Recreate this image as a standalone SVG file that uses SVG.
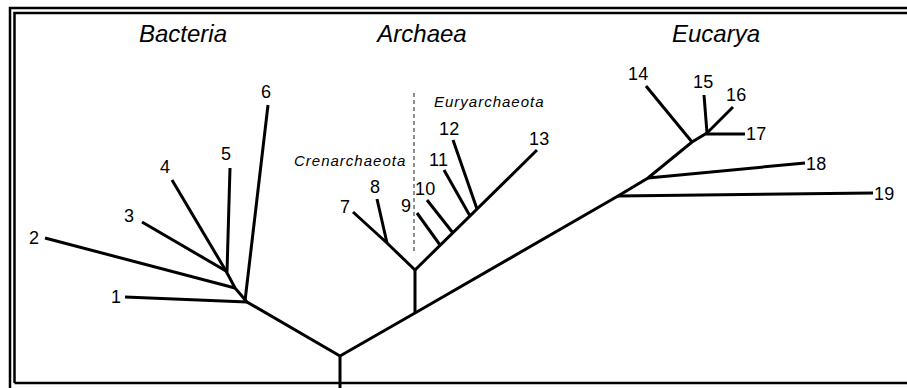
<svg xmlns="http://www.w3.org/2000/svg" width="907" height="388" viewBox="0 0 907 388">
  <style>
    .frame { fill: none; stroke: #000; stroke-width: 2.5; }
    .br { fill: none; stroke: #000; stroke-width: 3; stroke-linecap: butt; stroke-linejoin: miter; }
    .div { fill: none; stroke: #333; stroke-width: 1.1; stroke-dasharray: 4 3; }
    .domain { font-family: "Liberation Sans", Arial, sans-serif; font-style: italic; font-size: 24px; fill: #000; text-anchor: middle; }
    .clade { font-family: "Liberation Sans", Arial, sans-serif; font-style: italic; font-size: 15px; letter-spacing: 1px; fill: #000; }
    .num { font-family: "Liberation Sans", Arial, sans-serif; font-size: 18px; letter-spacing: 0.3px; fill: #000; }
  </style>
  <rect width="907" height="388" fill="#fff"/>

  <!-- double frame, open to the right and bottom edges -->
  <g id="frame">
    <path class="frame" d="M10,388 V8 H907"/>
    <path class="frame" d="M14.5,383 V13 H907 M14.5,383 H907"/>
  </g>

  <!-- domain headings -->
  <g id="headings">
    <text class="domain" x="183" y="42">Bacteria</text>
    <text class="domain" x="422" y="42">Archaea</text>
    <text class="domain" x="716" y="42">Eucarya</text>
  </g>

  <!-- Crenarchaeota / Euryarchaeota split -->
  <g id="archaea-split">
    <line class="div" x1="414" y1="93" x2="414" y2="252"/>
    <text class="clade" x="294" y="166">Crenarchaeota</text>
    <text class="clade" x="434" y="107">Euryarchaeota</text>
  </g>

  <!-- tree branches -->
  <g id="connectors">
    <!-- root and trunk -->
    <path class="br" d="M340,388 V356"/>
    <path class="br" d="M340,356 L415,313 L618,196 L648,178 L692,142 L707,133"/>
    <path class="br" d="M340,356 L247,302 L235,288 L226,271"/>
    <!-- Bacteria -->
    <path class="br" d="M247,302 L125,297"/>
    <path class="br" d="M235,288 L45,238"/>
    <path class="br" d="M226,271 L142,222"/>
    <path class="br" d="M226,271 L172,180"/>
    <path class="br" d="M227,272 L230,168"/>
    <path class="br" d="M245,301 L268,105"/>
    <!-- Archaea -->
    <path class="br" d="M415,313 V270"/>
    <path class="br" d="M415,270 L387,243 L353,212"/>
    <path class="br" d="M387,243 L377,199"/>
    <path class="br" d="M415,270 L537,150"/>
    <path class="br" d="M440,245 L417,213"/>
    <path class="br" d="M453,233 L427,200"/>
    <path class="br" d="M470,216 L444,170"/>
    <path class="br" d="M477,209 L453,140"/>
    <!-- Eucarya -->
    <path class="br" d="M618,196 L873,193"/>
    <path class="br" d="M648,178 L805,163"/>
    <path class="br" d="M692,142 L646,86"/>
    <path class="br" d="M707,133 L704,95"/>
    <path class="br" d="M707,133 L733,107"/>
    <path class="br" d="M706,134 L745,134"/>
  </g>

  <!-- leaf labels -->
  <g id="leaf-1"><text class="num" x="111" y="303">1</text></g>
  <g id="leaf-2"><text class="num" x="29" y="244">2</text></g>
  <g id="leaf-3"><text class="num" x="124" y="222">3</text></g>
  <g id="leaf-4"><text class="num" x="160" y="173">4</text></g>
  <g id="leaf-5"><text class="num" x="221" y="160">5</text></g>
  <g id="leaf-6"><text class="num" x="261" y="98">6</text></g>
  <g id="leaf-7"><text class="num" x="340" y="213">7</text></g>
  <g id="leaf-8"><text class="num" x="370" y="193">8</text></g>
  <g id="leaf-9"><text class="num" x="401" y="212">9</text></g>
  <g id="leaf-10"><text class="num" x="415" y="195">10</text></g>
  <g id="leaf-11"><text class="num" x="429" y="166">11</text></g>
  <g id="leaf-12"><text class="num" x="439" y="135">12</text></g>
  <g id="leaf-13"><text class="num" x="529" y="145">13</text></g>
  <g id="leaf-14"><text class="num" x="628" y="80">14</text></g>
  <g id="leaf-15"><text class="num" x="693" y="88">15</text></g>
  <g id="leaf-16"><text class="num" x="726" y="101">16</text></g>
  <g id="leaf-17"><text class="num" x="746" y="140">17</text></g>
  <g id="leaf-18"><text class="num" x="806" y="170">18</text></g>
  <g id="leaf-19"><text class="num" x="874" y="200">19</text></g>
</svg>
